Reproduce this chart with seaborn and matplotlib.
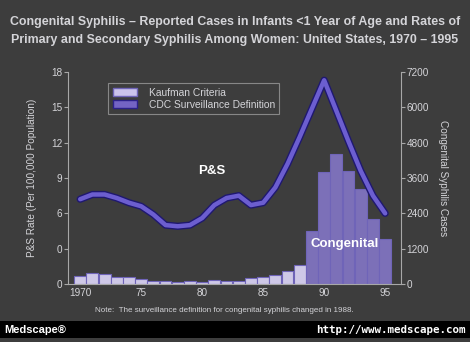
import numpy as np
import pandas as pd
import matplotlib
matplotlib.use("Agg")
import matplotlib.pyplot as plt
import matplotlib.patheffects as pe
from matplotlib.patches import Patch, Rectangle
import seaborn as sns

# ---- data ----
years = list(range(1970, 1996))
kaufman_years = list(range(1970, 1989))
kaufman_cases = [280, 385, 340, 240, 240, 160, 115, 90, 60, 90, 70, 125, 115, 115, 215, 225, 320, 430, 640]
cdc_years = list(range(1989, 1996))
cdc_cases = [1810, 3790, 4410, 3840, 3220, 2200, 1530]
ps_rate = [7.2, 7.6, 7.6, 7.3, 6.9, 6.6, 5.9, 5.0, 4.9, 5.0, 5.6, 6.7, 7.3, 7.5, 6.7, 6.9,
           8.2, 10.2, 12.5, 14.9, 17.3, 14.7, 12.1, 9.6, 7.5, 6.0]
x_ticks = [1970, 1975, 1980, 1985, 1990, 1995]
x_ticklabels = ["1970", "75", "80", "85", "90", "95"]
left_ticks = [0, 3, 6, 9, 12, 15, 18]
left_ticklabels = ["0", "0", "6", "9", "12", "15", "18"]
right_ticks = [0, 1200, 2400, 3600, 4800, 6000, 7200]
right_ticklabels = ["0", "1200", "2400", "3600", "4800", "6000", "7200"]
series_names = ["Kaufman Criteria", "CDC Surveillance Definition"]

bars = pd.DataFrame({
    "year": kaufman_years + cdc_years,
    "cases": kaufman_cases + cdc_cases,
    "definition": [series_names[0]] * len(kaufman_years) + [series_names[1]] * len(cdc_years),
})
line = pd.DataFrame({"year": years, "rate": ps_rate})

BG = "#3d3d3d"
TXT = "#d4d4d8"
AX = "#a8a8a8"
KAUF = "#cbc3ec"
KAUF_E = "#6f64b8"
CDC = "#7464c4"
CDC_E = "#2c2188"
LINE = "#6c5ed0"
LINE_E = "#1f1870"

sns.set_style("dark")
plt.rcParams["font.family"] = ["Liberation Sans", "DejaVu Sans"]

fig = plt.figure(figsize=(4.70, 3.42), dpi=100, facecolor=BG)
ax = fig.add_axes([68 / 470, 58 / 342, 333 / 470, 212 / 342])
ax2 = ax.twinx()
for a in (ax, ax2):
    a.set_facecolor(BG)
    a.grid(False)

# bars on right axis
sns.barplot(data=bars, x="year", y="cases", hue="definition", hue_order=series_names,
            palette=[KAUF, CDC], native_scale=True, dodge=False, width=0.97,
            ax=ax2, legend=False, edgecolor=KAUF_E, linewidth=0.8)
for p in ax2.patches:
    fc = p.get_facecolor()
    if abs(fc[0] - matplotlib.colors.to_rgba(CDC)[0]) < 0.02:
        p.set_edgecolor(CDC_E)
        p.set_linewidth(1.0)

# line on left axis
ax.set_zorder(ax2.get_zorder() + 1)
ax.patch.set_visible(False)
sns.lineplot(data=line, x="year", y="rate", ax=ax, color=LINE, linewidth=3.2,
             path_effects=[pe.Stroke(linewidth=5.2, foreground=LINE_E), pe.Normal()])

ax.set_xlim(1969.0, 1996.3)
ax.set_ylim(0, 18)
ax2.set_ylim(0, 7200)
ax.set_xticks(x_ticks)
ax.set_xticklabels(x_ticklabels)
ax.set_yticks(left_ticks)
ax.set_yticklabels(left_ticklabels)
ax2.set_yticks(right_ticks)
ax2.set_yticklabels(right_ticklabels)
ax.set_xlabel("")
ax.set_ylabel("P&S Rate (Per 100,000 Population)", color=TXT, fontsize=7.2, labelpad=10)
ax2.set_ylabel("Congenital Syphilis Cases", color=TXT, fontsize=7.2, rotation=270, labelpad=14)
ax2.set_xlabel("")

for a in (ax, ax2):
    for s in a.spines.values():
        s.set_visible(False)
    a.tick_params(colors=AX, labelcolor=TXT, labelsize=7.2, length=3, width=0.8, pad=1)
ax.spines["left"].set_visible(True)
ax.spines["left"].set_color(AX)
ax.spines["bottom"].set_visible(True)
ax.spines["bottom"].set_color(AX)
ax2.spines["right"].set_visible(True)
ax2.spines["right"].set_color(AX)
ax.tick_params(axis="x", pad=0)

# annotations
ax.text(1980.8, 9.6, "P&S", color="white", fontsize=9.5, fontweight="bold", ha="center", va="center")
ax2.text(1991.7, 1360, "Congenital", color="white", fontsize=9.5, fontweight="bold",
         ha="center", va="center")

# legend
handles = [Patch(facecolor=KAUF, edgecolor=KAUF_E), Patch(facecolor=CDC, edgecolor=CDC_E)]
leg = fig.legend(handles, series_names, loc="upper left", bbox_to_anchor=(108 / 470, 1 - 83 / 342),
                 fontsize=7.4, frameon=True, handlelength=2.4, handleheight=0.8,
                 borderpad=0.45, labelspacing=0.2, handletextpad=1.1, borderaxespad=0)
leg.get_frame().set_facecolor("none")
leg.get_frame().set_edgecolor("#9a9a9a")
leg.get_frame().set_linewidth(0.8)
leg.get_frame().set_boxstyle("square", pad=0)
for t in leg.get_texts():
    t.set_color(TXT)

# titles
fig.text(0.5, 1 - 22 / 342, "Congenital Syphilis – Reported Cases in Infants <1 Year of Age and Rates of",
         ha="center", va="center", color=TXT, fontsize=8.9, fontweight="bold")
fig.text(0.5, 1 - 40 / 342, "Primary and Secondary Syphilis Among Women: United States, 1970 – 1995",
         ha="center", va="center", color=TXT, fontsize=8.9, fontweight="bold")

# note
fig.text(224 / 470, 1 - 311 / 342,
         "Note:  The surveillance definition for congenital syphilis changed in 1988.",
         ha="center", va="center", color=TXT, fontsize=5.8)

# bottom banner
fig.patches.append(Rectangle((0, 4 / 342), 1, 17 / 342, transform=fig.transFigure,
                             facecolor="black", edgecolor="none", zorder=0))
fig.text(4 / 470, 1 - 330 / 342, "Medscape®", ha="left", va="center", color="white",
         fontsize=8, fontweight="bold")
fig.text(466 / 470, 1 - 330 / 342, "http://www.medscape.com", ha="right", va="center",
         color="white", fontsize=7.8, fontweight="bold", family=["DejaVu Sans Mono"])

fig.savefig("out.png", dpi=100, facecolor=BG)
